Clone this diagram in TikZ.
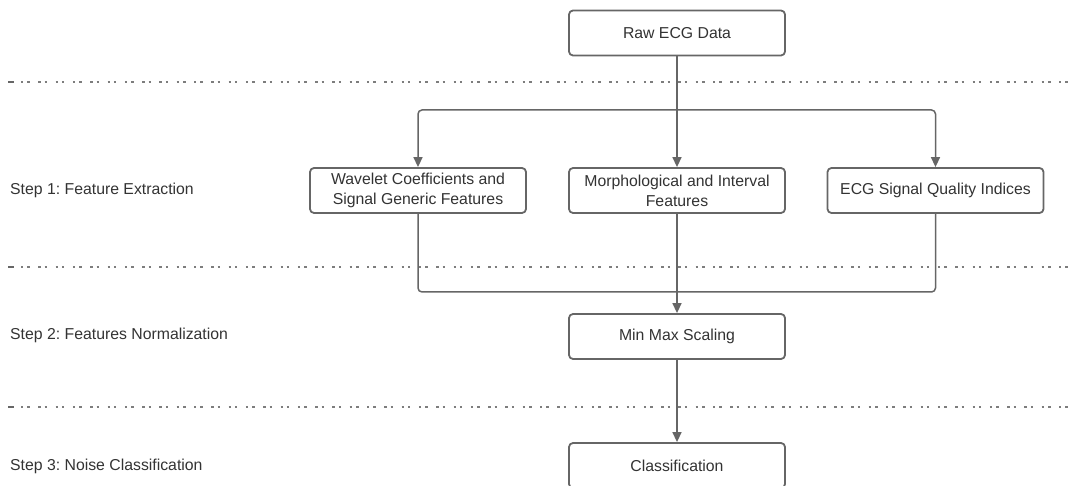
\documentclass[tikz,border=0pt]{standalone}
\usepackage{fontspec}
\setmainfont{Liberation Sans}
\frenchspacing
\usetikzlibrary{arrows.meta}
\definecolor{linegray}{HTML}{666666}
\definecolor{textgray}{HTML}{333333}

\begin{document}
\begin{tikzpicture}[x=1pt, y=-1pt, line join=round,
    stagebox/.style={draw=linegray, line width=1.8pt, rounded corners=4pt, fill=white,
      minimum width=216pt, minimum height=45pt, align=center, inner sep=2pt,
      text=textgray, font=\fontsize{15.8}{20}\selectfont},
    steplabel/.style={anchor=west, text=textgray, inner sep=0pt, font=\fontsize{15.8}{20}\selectfont},
    flow/.style={draw=linegray, line width=1.5pt, rounded corners=4pt},
    flowarrow/.style={flow, -{Triangle[length=10pt, width=9pt]}},
    divider/.style={draw=linegray!85, line width=2pt,
      dash pattern=on 2.4pt off 4pt on 2.4pt off 8.5pt}]
  \useasboundingbox (0,0) rectangle (1080,486);

  % ========================================================
  % 1. STAGE DIVIDERS
  % ========================================================
  \foreach \yy in {82, 267, 407} {
    \draw[linegray, line width=2pt] (8,\yy) -- (14,\yy);
    \draw[divider] (21,\yy) -- (1076,\yy);
  }

  % ========================================================
  % 2. STEP LABELS (left side)
  % ========================================================
  \node[steplabel] (step1) at (10,190) {Step 1: Feature Extraction};
  \node[steplabel] (step2) at (10,335) {Step 2: Features Normalization};
  \node[steplabel] (step3) at (10,466) {Step 3: Noise Classification};

  % ========================================================
  % 3. PIPELINE BOXES
  % ========================================================
  \node[stagebox] (raw) at (677,33) {Raw ECG Data};

  \node[stagebox] (wavelet) at (418,190.5) {Wavelet Coefficients and\\Signal Generic Features};
  \node[stagebox] (morph) at (677,190.5) {Morphological and Interval\\Features};
  \node[stagebox] (sqi) at (935.5,190.5) {ECG Signal Quality Indices};

  \node[stagebox] (minmax) at (677,336.5) {Min Max Scaling};

  \node[stagebox] (classif) at (677,465.5) {Classification};

  % ========================================================
  % 4. CONNECTORS
  % ========================================================
  \coordinate (split) at (677,110);
  \coordinate (merge) at (677,292);

  \draw[flow] (raw.south) -- (split);
  \draw[flowarrow] (split) -| (wavelet.north);
  \draw[flowarrow] (split) -- (morph.north);
  \draw[flowarrow] (split) -| (sqi.north);

  \draw[flow] (wavelet.south) |- (merge);
  \draw[flow] (sqi.south) |- (merge);
  \draw[flowarrow] (morph.south) -- (minmax.north);

  \draw[flowarrow] (minmax.south) -- (classif.north);

\end{tikzpicture}
\end{document}
